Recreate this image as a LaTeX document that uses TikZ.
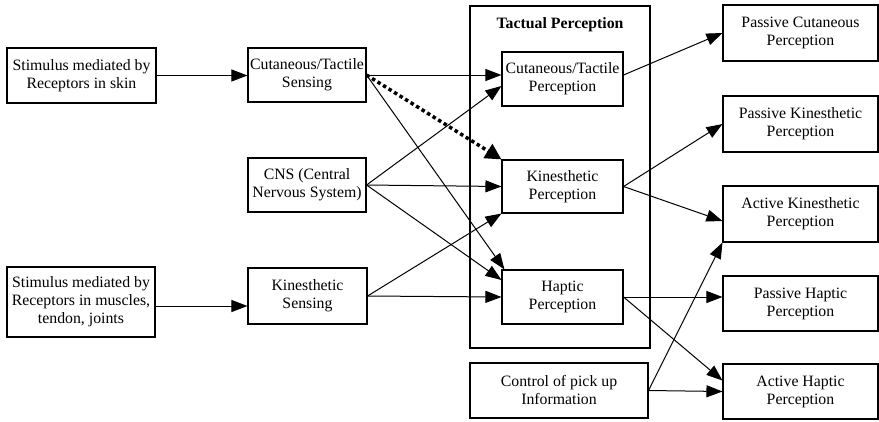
\documentclass[tikz,border=0pt]{standalone}
\usepackage{fontspec}
\setmainfont{Liberation Serif}
\usetikzlibrary{arrows.meta}

\begin{document}
\begin{tikzpicture}[
    x=1pt, y=-1pt,
    every node/.style={font=\fontsize{15.8}{18}\selectfont, align=center, inner sep=0pt},
    box/.style={draw, line width=1.1pt, minimum height=55pt},
    arr/.style={-{Triangle[length=16pt, width=12pt]}, line width=1pt},
  ]
  \useasboundingbox (0,0) rectangle (879,421);

  % left column
  \node[box, minimum width=149pt] (stimskin) at (81.5,75.5) {Stimulus mediated by\\Receptors in skin};
  \node[box, minimum width=148pt, minimum height=70pt] (stimmus) at (81,302) {Stimulus mediated by\\Receptors in muscles,\\tendon, joints};

  % sensing
  \node[box, minimum width=118pt, minimum height=54pt] (cutsens) at (307,75) {Cutaneous/Tactile\\Sensing};
  \node[box, minimum width=118pt, minimum height=54pt] (cns) at (307,185) {CNS (Central\\Nervous System)};
  \node[box, minimum width=119pt, minimum height=56pt] (kinsens) at (307.5,296) {Kinesthetic\\Sensing};

  % tactual perception
  \draw[line width=1.1pt] (470,6) rectangle (650,348);
  \node[font=\fontsize{15.8}{18}\selectfont\bfseries] (tactual) at (560,25) {Tactual Perception};
  \node[box, minimum width=121pt, minimum height=54pt] (cutperc) at (562.5,79) {Cutaneous/Tactile\\Perception};
  \node[box, minimum width=121pt, minimum height=53pt] (kinperc) at (562.5,186.5) {Kinesthetic\\Perception};
  \node[box, minimum width=121pt, minimum height=54pt] (happerc) at (562.5,297) {Haptic\\Perception};
  \node[box, minimum width=178pt] (control) at (559,390.5) {Control of pick up\\Information};

  % right column
  \node[box, minimum width=155pt, minimum height=56pt] (passcut) at (800.5,33) {Passive Cutaneous\\Perception};
  \node[box, minimum width=155pt, minimum height=56pt] (passkin) at (800.5,124) {Passive Kinesthetic\\Perception};
  \node[box, minimum width=155pt, minimum height=56pt] (actkin) at (800.5,214) {Active Kinesthetic\\Perception};
  \node[box, minimum width=155pt] (passhap) at (800.5,303.5) {Passive Haptic\\Perception};
  \node[box, minimum width=155pt] (acthap) at (800.5,391.5) {Active Haptic\\Perception};

  % connectors
  \draw[arr] (stimskin.east) -- (stimskin.east -| cutsens.west);
  \draw[arr] ([yshift=-4pt]stimmus.east) -- ([yshift=-4pt]stimmus.east -| kinsens.west);

  \draw[arr] (cutsens.east) -- ([yshift=4pt]cutperc.west);
  \draw[arr, line width=3.5pt, dash pattern=on 3.5pt off 3pt, -{Triangle[length=16pt, width=16pt]}] (cutsens.east) -- (kinperc.north west);
  \draw[arr] (cutsens.east) -- ([xshift=3pt]happerc.north west);

  \draw[arr] (cns.east) -- ([yshift=-7pt]cutperc.west);
  \draw[arr] (cns.east) -- (kinperc.west);
  \draw[arr] (cns.east) -- ([yshift=17pt]happerc.west);

  \draw[arr] (kinsens.east) -- (kinperc.south west);
  \draw[arr] (kinsens.east) -- (happerc.west);

  \draw[arr] ([yshift=4pt]cutperc.east) -- (passcut.west);
  \draw[arr] (kinperc.east) -- (passkin.west);
  \draw[arr] (kinperc.east) -- ([yshift=-7pt]actkin.west);
  \draw[arr] (happerc.east) -- (happerc.east -| passhap.west);
  \draw[arr] (happerc.east) -- ([yshift=11pt]acthap.west);
  \draw[arr] (control.east) -- (actkin.south west);
  \draw[arr] (control.east) -- (acthap.west);
\end{tikzpicture}
\end{document}
